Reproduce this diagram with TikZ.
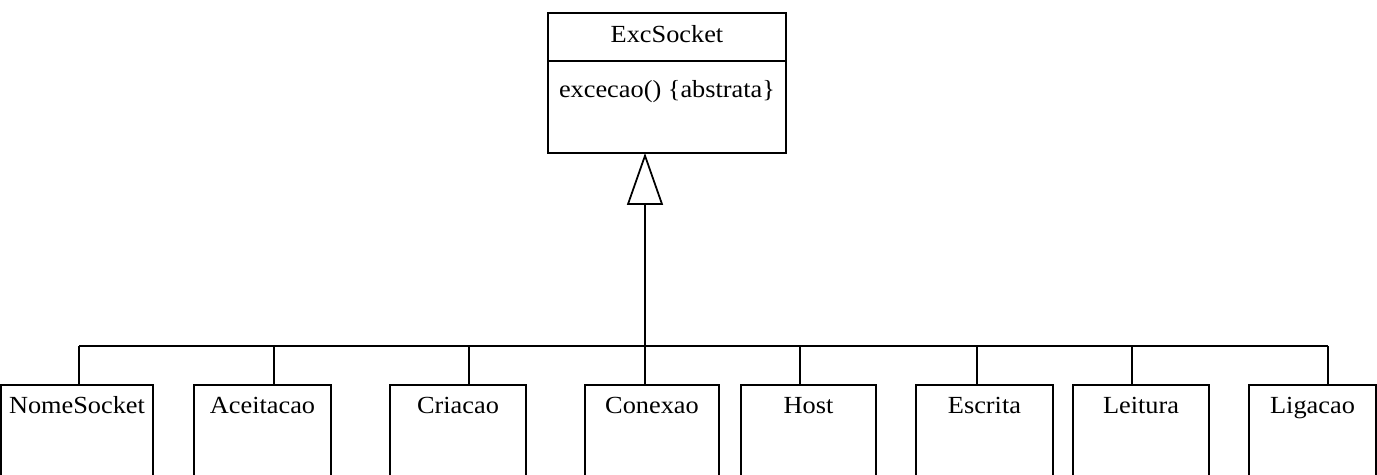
\documentclass[tikz,border=0pt]{standalone}
\usepackage{fontspec}
\setmainfont[FakeStretch=1.07]{Liberation Serif}
\usetikzlibrary{positioning,arrows.meta}

\begin{document}
\begin{tikzpicture}[every node/.style={font=\fontsize{14}{16}\selectfont},
    cls/.style={draw, line width=1pt, anchor=north, inner ysep=0pt, text height=0.58cm, text depth=1.74cm},
    gen/.style={-{Triangle[open,length=1.04cm,width=0.72cm]}, line width=1pt}]
  \useasboundingbox (0,0) rectangle (27.54,9.5);
  \clip (0,0) rectangle (27.54,9.5);
  % abstract class on top
  \node[draw, line width=1pt, anchor=north, minimum width=4.76cm, inner ysep=0pt, outer sep=0pt,
        text height=0.60cm, text depth=0.36cm] (Exc) at (13.34,9.24) {ExcSocket};
  \node[draw, line width=1pt, anchor=north, minimum width=4.76cm, inner ysep=0pt, outer sep=0pt,
        text height=0.74cm, text depth=1.10cm] (ExcM) at (Exc.south) {excecao() \{abstrata\}};
  % subclasses
  \node[cls, minimum width=3.04cm] (NS)  at (1.54,1.82)  {NomeSocket};
  \node[cls, minimum width=2.74cm] (Ac)  at (5.25,1.82)  {Aceitacao};
  \node[cls, minimum width=2.72cm] (Cr)  at (9.16,1.82)  {Criacao};
  \node[cls, minimum width=2.68cm] (Co)  at (13.04,1.82) {Conexao};
  \node[cls, minimum width=2.70cm] (Ho)  at (16.17,1.82) {Host};
  \node[cls, minimum width=2.74cm] (Es)  at (19.69,1.82) {Escrita};
  \node[cls, minimum width=2.72cm] (Le)  at (22.82,1.82) {Leitura};
  \node[cls, minimum width=2.54cm] (Li)  at (26.25,1.82) {Ligacao};
  % bus joints
  \coordinate (b1) at (1.58,2.58);
  \coordinate (b2) at (5.48,2.58);
  \coordinate (b3) at (9.38,2.58);
  \coordinate (b4) at (12.90,2.58);
  \coordinate (b5) at (16.00,2.58);
  \coordinate (b6) at (19.54,2.58);
  \coordinate (b7) at (22.64,2.58);
  \coordinate (b8) at (26.56,2.58);
  \draw[line width=1pt] (b1) -- (b8);
  \draw[line width=1pt] (b1) -- (b1 |- NS.north);
  \draw[line width=1pt] (b2) -- (b2 |- Ac.north);
  \draw[line width=1pt] (b3) -- (b3 |- Cr.north);
  \draw[line width=1pt] (b4) -- (b4 |- Co.north);
  \draw[line width=1pt] (b5) -- (b5 |- Ho.north);
  \draw[line width=1pt] (b6) -- (b6 |- Es.north);
  \draw[line width=1pt] (b7) -- (b7 |- Le.north);
  \draw[line width=1pt] (b8) -- (b8 |- Li.north);
  % generalization
  \draw[gen] (b4) -- (b4 |- ExcM.south);
\end{tikzpicture}
\end{document}
